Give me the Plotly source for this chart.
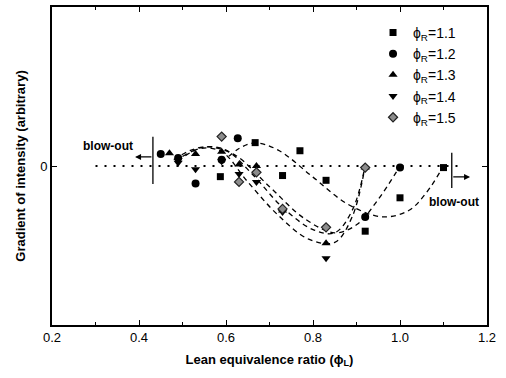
import plotly.graph_objects as go

# ---------------- data ----------------
series_names = ["ϕ<sub>R</sub>=1.1", "ϕ<sub>R</sub>=1.2", "ϕ<sub>R</sub>=1.3", "ϕ<sub>R</sub>=1.4", "ϕ<sub>R</sub>=1.5"]

phi_11 = [0.587, 0.667, 0.73, 0.77, 0.83, 0.92, 1.0, 1.1]
grad_11 = [-0.067, 0.147, -0.06, 0.096, -0.09, -0.41, -0.2, -0.01]

phi_12 = [0.45, 0.49, 0.53, 0.59, 0.627, 0.92, 1.0]
grad_12 = [0.075, 0.05, -0.11, 0.04, 0.174, -0.32, -0.01]

phi_13 = [0.47, 0.53, 0.59, 0.63, 0.67, 0.73, 0.83, 0.92]
grad_13 = [0.08, 0.075, 0.09, 0.01, 0.0, -0.28, -0.486, -0.01]

phi_14 = [0.49, 0.53, 0.59, 0.63, 0.67, 0.73, 0.83]
grad_14 = [0.02, -0.02, 0.03, -0.05, -0.1, -0.29, -0.58]

phi_15 = [0.59, 0.63, 0.67, 0.73, 0.83, 0.92]
grad_15 = [0.185, -0.1, -0.04, -0.27, -0.386, -0.01]

# dashed fitted curves (control points)
fit_11_x = [0.59, 0.63, 0.667, 0.72, 0.80, 0.88, 0.96, 1.02, 1.06, 1.10]
fit_11_y = [0.02, 0.11, 0.145, 0.10, -0.07, -0.24, -0.32, -0.28, -0.17, 0.0]
fit_12_x = [0.48, 0.52, 0.56, 0.62, 0.70, 0.78, 0.85, 0.90, 0.95, 1.0]
fit_12_y = [0.04, 0.10, 0.12, 0.07, -0.13, -0.33, -0.42, -0.37, -0.21, 0.0]
fit_13_x = [0.50, 0.55, 0.60, 0.66, 0.73, 0.80, 0.85, 0.89, 0.92]
fit_13_y = [0.06, 0.12, 0.10, -0.05, -0.26, -0.40, -0.42, -0.28, 0.0]
fit_14_x = [0.49, 0.54, 0.59, 0.65, 0.72, 0.79, 0.85, 0.89, 0.92]
fit_14_y = [0.03, 0.11, 0.09, -0.10, -0.31, -0.46, -0.48, -0.32, 0.0]

zero_x = [0.30, 1.145]
zero_y = [0, 0]

x_ticks = [0.2, 0.4, 0.6, 0.8, 1.0, 1.2]
x_tick_text = ["0.2", "0.4", "0.6", "0.8", "1.0", "1.2"]
y_ticks = [0]
y_tick_text = ["0"]

# ---------------- figure ----------------
fig = go.Figure()

dash_style = dict(color="black", width=1.3, dash="5px,4px")
fig.add_trace(go.Scatter(x=zero_x, y=zero_y, mode="lines", showlegend=False,
                         line=dict(color="black", width=1.8, dash="2px,7px")))
for fx, fy in [(fit_11_x, fit_11_y), (fit_12_x, fit_12_y), (fit_13_x, fit_13_y), (fit_14_x, fit_14_y)]:
    fig.add_trace(go.Scatter(x=fx, y=fy, mode="lines", showlegend=False,
                             line=dict(shape="spline", smoothing=1.0, **dash_style)))

marker_specs = [
    (phi_11, grad_11, "square", 7, "black"),
    (phi_12, grad_12, "circle", 8, "black"),
    (phi_13, grad_13, "triangle-up", 8, "black"),
    (phi_14, grad_14, "triangle-down", 8, "black"),
    (phi_15, grad_15, "diamond", 7, "#8c8c8c"),
]
for name, (px, py, sym, sz, col) in zip(series_names, marker_specs):
    fig.add_trace(go.Scatter(
        x=px, y=py, mode="markers", name=name,
        marker=dict(symbol=sym, size=sz, color=col,
                    line=dict(color="#222222", width=1.2 if col != "black" else 0)),
    ))

# blow-out indicators
fig.add_shape(type="line", x0=0.432, x1=0.432, y0=0.184, y1=-0.113,
              line=dict(color="black", width=1.3))
fig.add_shape(type="line", x0=1.119, x1=1.119, y0=0.084, y1=-0.138,
              line=dict(color="black", width=1.3))
fig.add_annotation(x=0.391, y=0.057, ax=0.432, ay=0.057, xref="x", yref="y",
                   axref="x", ayref="y", text="", showarrow=True,
                   arrowhead=2, arrowsize=1, arrowwidth=1.2, arrowcolor="black")
fig.add_annotation(x=1.161, y=-0.069, ax=1.119, ay=-0.069, xref="x", yref="y",
                   axref="x", ayref="y", text="", showarrow=True,
                   arrowhead=2, arrowsize=1, arrowwidth=1.2, arrowcolor="black")
fig.add_annotation(x=0.39, y=0.126, text="<b>blow-out</b>", showarrow=False,
                   xanchor="right", yanchor="middle",
                   font=dict(family="Liberation Sans", size=12, color="black"))
fig.add_annotation(x=1.125, y=-0.225, text="<b>blow-out</b>", showarrow=False,
                   xanchor="center", yanchor="middle",
                   font=dict(family="Liberation Sans", size=12, color="black"))

axis_common = dict(showline=True, linecolor="black", linewidth=1.6, mirror="ticks",
                   ticks="inside", tickcolor="black", ticklen=5, tickwidth=1.2,
                   showgrid=False, zeroline=False, automargin=False,
                   tickfont=dict(family="Liberation Sans", size=13, color="black"))

fig.update_xaxes(range=[0.2, 1.2], tickvals=x_ticks, ticktext=x_tick_text,
                 minor=dict(ticks="inside", ticklen=3, dtick=0.1, tickcolor="black"),
                 title=dict(text="<b>Lean equivalence ratio (ϕ<sub>L</sub>)</b>", standoff=10,
                            font=dict(family="Liberation Sans", size=13, color="black")),
                 **axis_common)
fig.update_yaxes(range=[-1.0, 1.0], tickvals=y_ticks, ticktext=y_tick_text,
                 title=dict(text="<b>Gradient of intensity (arbitrary)</b>", standoff=12,
                            font=dict(family="Liberation Sans", size=13, color="black")),
                 **axis_common)

fig.update_layout(
    width=506, height=378,
    margin=dict(l=52, r=19, t=7, b=53),
    plot_bgcolor="white", paper_bgcolor="white",
    legend=dict(x=0.738, y=0.969, xanchor="left", yanchor="top",
                bgcolor="rgba(0,0,0,0)", tracegroupgap=0,
                font=dict(family="Liberation Sans", size=14, color="black"),
                itemwidth=30),
)

fig.write_html("out.html", config={"displayModeBar": False},
               post_script="document.body.style.margin='0';")
